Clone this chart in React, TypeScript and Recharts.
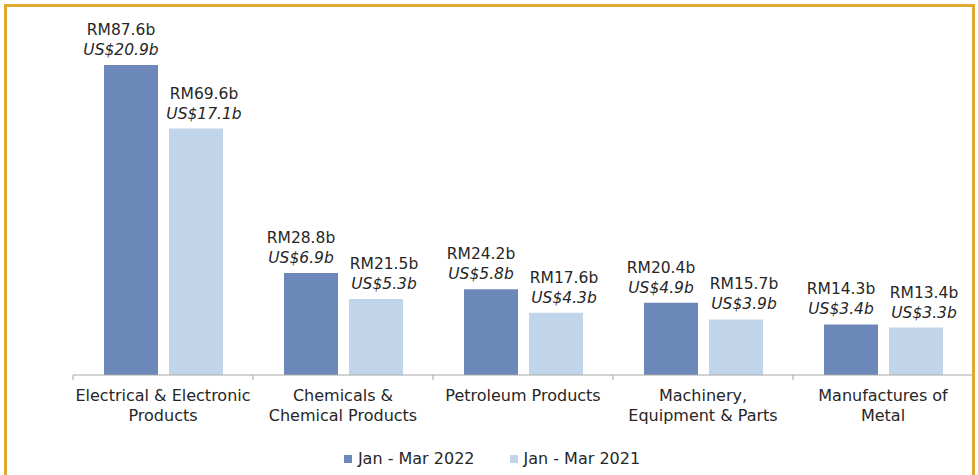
import React from "react";
import { BarChart, Bar, XAxis, YAxis, Legend, LabelList } from "recharts";

const categories = [
  "Electrical & Electronic\nProducts",
  "Chemicals &\nChemical Products",
  "Petroleum Products",
  "Machinery,\nEquipment & Parts",
  "Manufactures of\nMetal",
];
const rm2022 = [87.6, 28.8, 24.2, 20.4, 14.3];
const us2022 = [20.9, 6.9, 5.8, 4.9, 3.4];
const rm2021 = [69.6, 21.5, 17.6, 15.7, 13.4];
const us2021 = [17.1, 5.3, 4.3, 3.9, 3.3];
const seriesNames = ["Jan - Mar 2022", "Jan - Mar 2021"];

const data = categories.map((c, i) => ({
  category: c,
  rm2022: rm2022[i],
  us2022: us2022[i],
  rm2021: rm2021[i],
  us2021: us2021[i],
}));

const DARK = "#6C88B8";
const LIGHT = "#C0D5EA";
const TEXT = "#262626";
const AXIS = "#A6A6A6";
const FONT = "'DejaVu Sans', sans-serif";

const makeLabel = (usArr: number[], dx: number) => (props: any) => {
  const { x, y, width, value, index } = props;
  const cx = x + width / 2 + dx;
  return (
    <text textAnchor="middle" fontFamily={FONT} fontSize={15.5} fill={TEXT}>
      <tspan x={cx} y={y - 30}>{`RM${Number(value).toFixed(1)}b`}</tspan>
      <tspan x={cx} y={y - 10} fontStyle="italic">{`US$${usArr[index].toFixed(1)}b`}</tspan>
    </text>
  );
};

const CategoryTick = (props: any) => {
  const { x, y, payload, index, visibleTicksCount } = props;
  const half = payload && payload.offset ? payload.offset : 90;
  const lines = String(payload.value).split("\n");
  const isLast = index === (visibleTicksCount ?? categories.length) - 1;
  return (
    <g>
      <line x1={x - half} x2={x - half} y1={y} y2={y + 5} stroke={AXIS} strokeWidth={1} />
      {isLast && <line x1={x + half} x2={x + half} y1={y} y2={y + 5} stroke={AXIS} strokeWidth={1} />}
      <text textAnchor="middle" fontFamily={FONT} fontSize={16} fill={TEXT}>
        {lines.map((l, i) => (
          <tspan key={i} x={x} y={y + 26 + i * 20}>{l}</tspan>
        ))}
      </text>
    </g>
  );
};

const LegendContent = () => (
  <div
    style={{
      height: 45,
      width: 978,
      boxSizing: "border-box",
      paddingTop: 12,
      paddingLeft: 6,
      display: "flex",
      justifyContent: "center",
      fontFamily: FONT,
      fontSize: 16,
      color: TEXT,
      lineHeight: "20px",
    }}
  >
    {seriesNames.map((n, i) => (
      <div key={n} style={{ display: "flex", alignItems: "center", marginLeft: i === 0 ? 0 : 35 }}>
        <span style={{ width: 8, height: 8, background: i === 0 ? DARK : LIGHT, marginRight: 6, display: "inline-block" }} />
        <span>{n}</span>
      </div>
    ))}
  </div>
);

export default function App() {
  return (
    <div style={{ position: "absolute", left: 0, top: 0, width: 978, height: 475, overflow: "hidden", background: "#fff" }}>
      <BarChart
        width={978}
        height={475}
        data={data}
        margin={{ top: 21, right: 5, bottom: 0, left: 73 }}
        barSize={54}
        barGap={11}
      >
        <XAxis
          dataKey="category"
          height={55}
          interval={0}
          tickLine={false}
          tickSize={0}
          tickMargin={0}
          axisLine={{ stroke: AXIS, strokeWidth: 1 }}
          tick={<CategoryTick />}
        />
        <YAxis hide domain={[0, 100]} width={0} />
        <Legend
          verticalAlign="bottom"
          content={<LegendContent />}
          wrapperStyle={{ left: 0, width: 978 }}
        />
        <Bar dataKey="rm2022" name={seriesNames[0]} fill={DARK} isAnimationActive={false}>
          <LabelList dataKey="rm2022" content={makeLabel(us2022, -10)} />
        </Bar>
        <Bar dataKey="rm2021" name={seriesNames[1]} fill={LIGHT} isAnimationActive={false}>
          <LabelList dataKey="rm2021" content={makeLabel(us2021, 8)} />
        </Bar>
      </BarChart>
      <div
        style={{
          position: "absolute",
          left: 4,
          top: 4,
          width: 971,
          height: 520,
          boxSizing: "border-box",
          borderTop: "3px solid #E1A931",
          borderLeft: "3px solid #E1A931",
          borderRight: "3px solid #E1A931",
          pointerEvents: "none",
        }}
      />
    </div>
  );
}
